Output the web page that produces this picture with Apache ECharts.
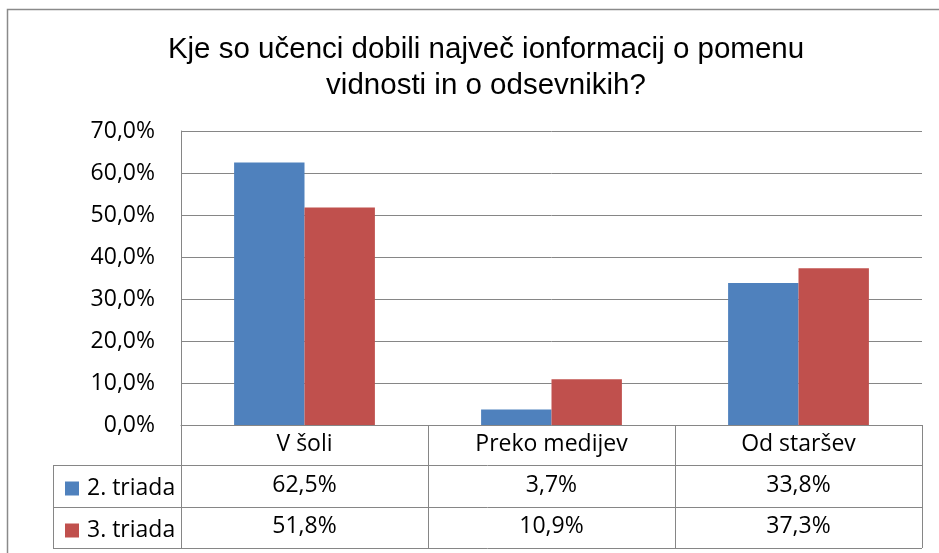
<!DOCTYPE html>
<html>
<head>
<meta charset="utf-8">
<script src="https://cdn.jsdelivr.net/npm/echarts@6/dist/echarts.min.js"></script>
<style>
  html, body { margin: 0; padding: 0; background: #fff; }
  #chart { width: 939px; height: 553px; }
</style>
</head>
<body>
<div id="chart"></div>
<script>
var categories = ['V šoli', 'Preko medijev', 'Od staršev'];
var seriesNames = ['2. triada', '3. triada'];
var triada2 = [62.5, 3.7, 33.8];
var triada3 = [51.8, 10.9, 37.3];
var colors = ['#4F81BD', '#C0504D'];

var gridLeft = 181, gridRight = 17, gridTop = 131, gridBottom = 128;
var rowH = 41, tableLeft = 53;
var lineColor = '#868686';
var tableFont = '"Open Sans", sans-serif';

function pct(v) {
    return v.toFixed(1).replace('.', ',') + '%';
}

var chartDom = document.getElementById('chart');
var myChart = echarts.init(chartDom);

var axisBottom = 553 - gridBottom;
var tableRight = 939 - gridRight;

var option = {
    animation: false,
    color: colors,
    title: {
        text: 'Kje so učenci dobili največ ionformacij o pomenu\nvidnosti in o odsevnikih?',
        left: 481,
        textAlign: 'center',
        top: 27,
        textStyle: {
            fontFamily: '"Liberation Sans", Arial, sans-serif',
            fontWeight: 'normal',
            fontSize: 29.5,
            lineHeight: 36,
            color: '#000'
        }
    },
    legend: {
        orient: 'vertical',
        left: 60,
        top: axisBottom + rowH + 6,
        itemWidth: 14,
        itemHeight: 14,
        itemGap: rowH - 22,
        icon: 'rect',
        data: seriesNames,
        selectedMode: false,
        textStyle: {
            fontFamily: tableFont,
            fontSize: 23,
            lineHeight: 22,
            color: '#000',
            padding: [0, 0, 0, 3]
        }
    },
    grid: {
        left: gridLeft,
        right: gridRight,
        top: gridTop,
        bottom: gridBottom,
        containLabel: false
    },
    xAxis: {
        type: 'category',
        data: categories,
        axisLine: { lineStyle: { color: lineColor, width: 1 } },
        axisTick: {
            show: true,
            length: rowH * 3,
            lineStyle: { color: lineColor, width: 1 }
        },
        axisLabel: {
            margin: -1,
            interval: 0,
            fontFamily: tableFont,
            fontSize: 23,
            lineHeight: rowH,
            color: '#000',
            formatter: function (value, idx) {
                return value + '\n' + pct(triada2[idx]) + '\n' + pct(triada3[idx]);
            }
        }
    },
    yAxis: {
        type: 'value',
        min: 0,
        max: 70,
        interval: 10,
        axisLine: { show: true, lineStyle: { color: lineColor, width: 1 } },
        axisTick: { show: false },
        splitLine: { lineStyle: { color: lineColor, width: 1 } },
        axisLabel: {
            margin: 26,
            fontFamily: tableFont,
            fontSize: 23,
            color: '#000',
            formatter: function (v) { return pct(v); }
        }
    },
    series: [
        {
            name: seriesNames[0],
            type: 'bar',
            data: triada2,
            barGap: '0%',
            barCategoryGap: '43%'
        },
        {
            name: seriesNames[1],
            type: 'bar',
            data: triada3,
            barGap: '0%',
            barCategoryGap: '43%'
        }
    ],
    graphic: [
        {
            type: 'rect',
            shape: { x: 7.5, y: 9.5, width: 1000, height: 700 },
            style: { fill: 'none', stroke: '#8a8a8a', lineWidth: 1.5 },
            silent: true
        },
        {
            type: 'group',
            silent: true,
            children: [1, 2, 3].map(function (r) {
                var y = axisBottom + rowH * r - (r === 1 ? 1 : 0);
                return {
                    type: 'line',
                    shape: { x1: tableLeft, y1: y + 0.5, x2: tableRight, y2: y + 0.5 },
                    style: { stroke: lineColor, lineWidth: 1 }
                };
            }).concat([{
                type: 'line',
                shape: { x1: tableLeft + 0.5, y1: axisBottom + rowH - 1, x2: tableLeft + 0.5, y2: axisBottom + rowH * 3 },
                style: { stroke: lineColor, lineWidth: 1 }
            }])
        }
    ]
};

myChart.setOption(option);

window.addEventListener('resize', function () {
    myChart.resize();
});
</script>
</body>
</html>
